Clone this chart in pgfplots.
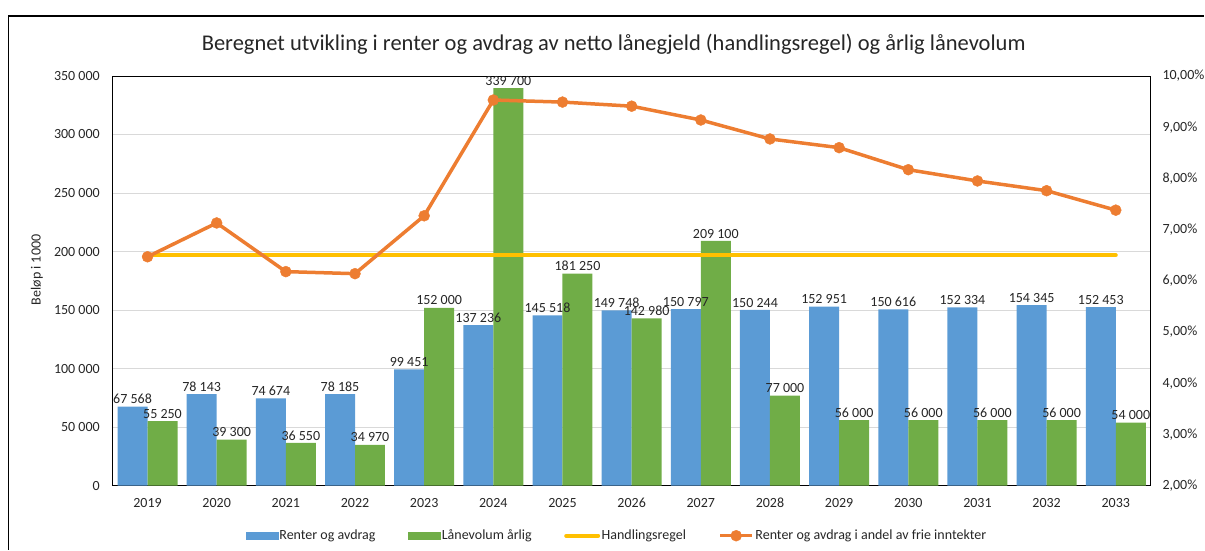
\documentclass[border=0pt]{standalone}
\usepackage{fontspec}
\setmainfont{Carlito}
\usepackage{pgfplots}
\pgfplotsset{compat=1.18}

\definecolor{renter}{HTML}{5B9BD5}
\definecolor{laan}{HTML}{70AD47}
\definecolor{regel}{HTML}{FFC000}
\definecolor{andel}{HTML}{ED7D31}
\definecolor{gridgray}{HTML}{D9D9D9}
\definecolor{txt}{HTML}{262626}

\pgfplotsset{
  chartbox/.style={
    scale only axis, width=1038pt, height=410pt,
    xmin=-0.5, xmax=14.5,
    major tick length=0pt,
    tick label style={text=txt, font=\fontsize{14}{17}\selectfont},
  },
}

\begin{document}
\begin{tikzpicture}
% Bars: amounts in 1000 NOK
\begin{axis}[
  chartbox, name=bars,
  at={(0pt,0pt)}, anchor=south west,
  ymin=0, ymax=350000,
  xtick={0,...,14},
  xticklabels={2019,2020,2021,2022,2023,2024,2025,2026,2027,2028,2029,2030,2031,2032,2033},
  ytick={0,50000,...,350000},
  scaled y ticks=false,
  ymajorgrids, grid style={gridgray, line width=0.9pt},
  axis line style={black, line width=0.9pt},
  /pgf/number format/fixed,
  /pgf/number format/precision=0,
  /pgf/number format/assume math mode=true,
  /pgf/number format/1000 sep={\ },
  yticklabel style={inner sep=0pt, xshift=-13pt},
  xticklabel style={inner sep=0pt, yshift=-12pt},
  ybar=0pt, bar width=30pt,
  nodes near coords,
  every node near coord/.append style={text=txt, font=\fontsize{14}{17}\selectfont, inner sep=2.5pt},
]
\addplot[fill=renter, draw=none] coordinates {
  (0,67568) (1,78143) (2,74674) (3,78185) (4,99451) (5,137236) (6,145518)
  (7,149748) (8,150797) (9,150244) (10,152951) (11,150616) (12,152334)
  (13,154345) (14,152453)};
\addplot[fill=laan, draw=none] coordinates {
  (0,55250) (1,39300) (2,36550) (3,34970) (4,152000) (5,339700) (6,181250)
  (7,142980) (8,209100) (9,77000) (10,56000) (11,56000) (12,56000)
  (13,56000) (14,54000)};
\end{axis}

% Lines: share of free income, in percent
\begin{axis}[
  chartbox,
  at={(bars.south west)}, anchor=south west,
  ymin=2, ymax=10,
  axis x line=none, axis y line*=right,
  y axis line style={draw=none},
  ytick={2,...,10},
  yticklabels={{2,00\%},{3,00\%},{4,00\%},{5,00\%},{6,00\%},{7,00\%},{8,00\%},{9,00\%},{10,00\%}},
  yticklabel style={inner sep=0pt, xshift=12pt},
  legend columns=4,
  legend style={draw=none, fill=none, at={(0.4855,-0.122)}, anchor=center,
    font=\fontsize{14}{17}\selectfont, text=txt,
    /tikz/every even column/.append style={column sep=31pt},
    nodes={inner sep=1.5pt}},
  legend image code/.code={\draw[#1, mark repeat=2, mark phase=2]
    plot coordinates {(0pt,0pt) (16pt,0pt) (32pt,0pt)};},
]
\addlegendimage{legend image code/.code={\fill[renter] (0pt,-3.5pt) rectangle (32pt,3.5pt);}}
\addlegendentry{Renter og avdrag}
\addlegendimage{legend image code/.code={\fill[laan] (0pt,-3.5pt) rectangle (32pt,3.5pt);}}
\addlegendentry{Lånevolum årlig}
\addplot[regel, line width=4pt, line cap=round] coordinates {
  (0,6.5) (1,6.5) (2,6.5) (3,6.5) (4,6.5) (5,6.5) (6,6.5) (7,6.5)
  (8,6.5) (9,6.5) (10,6.5) (11,6.5) (12,6.5) (13,6.5) (14,6.5)};
\addlegendentry{Handlingsregel}
\addplot[andel, line width=3.5pt, line join=round, mark=*, mark size=5.5pt,
  mark options={solid, fill=andel, draw=andel, line width=0.4pt}] coordinates {
  (0,6.47) (1,7.13) (2,6.18) (3,6.14) (4,7.27) (5,9.53) (6,9.49)
  (7,9.41) (8,9.14) (9,8.77) (10,8.60) (11,8.17) (12,7.95)
  (13,7.76) (14,7.38)};
\addlegendentry{Renter og avdrag i andel av frie inntekter}
\end{axis}

% Chart frame, title and axis title, placed around the plot area
\pgfresetboundingbox
\path ([shift={(-113pt,-64pt)}]bars.south west) coordinate (o);
\path (o) rectangle ([shift={(1205pt,550pt)}]o);
\draw[line width=1.3pt, black] ([shift={(8.5pt,0pt)}]o) -- ([shift={(8.5pt,534pt)}]o) -- ([shift={(1205pt,534pt)}]o);
\node[text=txt, font=\fontsize{22.5}{27}\selectfont] at ([shift={(614pt,506pt)}]o)
  {Beregnet utvikling i renter og avdrag av netto lånegjeld (handlingsregel) og årlig lånevolum};
\node[text=txt, rotate=90, font=\fontsize{14}{17}\selectfont] at ([shift={(37pt,280pt)}]o) {Beløp i 1000};
\end{tikzpicture}
\end{document}
